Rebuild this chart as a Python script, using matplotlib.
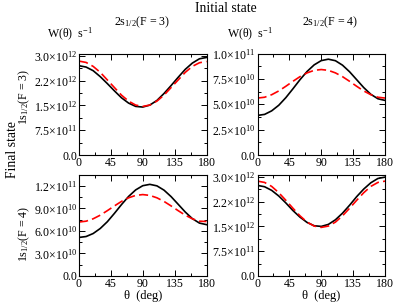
import numpy as np
import matplotlib
matplotlib.use("Agg")
import matplotlib.pyplot as plt
from matplotlib.ticker import AutoMinorLocator

plt.rcParams["font.family"] = ["Liberation Serif", "DejaVu Serif"]
plt.rcParams["mathtext.fontset"] = "custom"
plt.rcParams["mathtext.rm"] = "Liberation Serif"
plt.rcParams["mathtext.it"] = "Liberation Serif:italic"

# angles (deg)
theta = [0, 10, 20, 30, 40, 50, 60, 70, 80, 90, 100, 110, 120, 130, 140, 150, 160, 170, 180]

# W(theta)
# top-left: 2s(F=3) -> 1s(F=3), units 1e12
tl_black = [2.70, 2.66, 2.55, 2.37, 2.16, 1.94, 1.73, 1.57, 1.47, 1.45, 1.51, 1.65, 1.86, 2.10, 2.35, 2.59, 2.78, 2.91, 2.95]
tl_red = [2.84, 2.80, 2.68, 2.50, 2.27, 2.04, 1.81, 1.63, 1.51, 1.47, 1.51, 1.63, 1.81, 2.04, 2.27, 2.50, 2.68, 2.79, 2.83]
# top-right: 2s(F=4) -> 1s(F=3), units 1e10
tr_black = [3.90, 4.00, 4.35, 4.90, 5.65, 6.52, 7.42, 8.23, 8.88, 9.30, 9.44, 9.29, 8.85, 8.20, 7.42, 6.64, 5.98, 5.54, 5.38]
tr_red = [5.61, 5.69, 5.94, 6.31, 6.77, 7.26, 7.72, 8.09, 8.34, 8.42, 8.34, 8.09, 7.72, 7.26, 6.77, 6.31, 5.94, 5.69, 5.61]
# bottom-left: 2s(F=3) -> 1s(F=4), units 1e10
bl_black = [5.13, 5.25, 5.65, 6.32, 7.22, 8.33, 9.50, 10.58, 11.45, 12.01, 12.19, 11.99, 11.42, 10.56, 9.54, 8.51, 7.63, 7.04, 6.83]
bl_red = [7.18, 7.29, 7.61, 8.09, 8.69, 9.32, 9.92, 10.40, 10.72, 10.83, 10.72, 10.40, 9.92, 9.32, 8.69, 8.09, 7.61, 7.29, 7.25]
# bottom-right: 2s(F=4) -> 1s(F=4), units 1e12
br_black = [2.74, 2.70, 2.59, 2.42, 2.21, 1.98, 1.78, 1.62, 1.52, 1.50, 1.56, 1.70, 1.90, 2.14, 2.40, 2.63, 2.82, 2.95, 2.99]
br_red = [2.87, 2.83, 2.71, 2.52, 2.29, 2.05, 1.82, 1.63, 1.51, 1.47, 1.51, 1.63, 1.82, 2.05, 2.29, 2.52, 2.71, 2.83, 2.87]

xticks = [0, 45, 90, 135, 180]
yt_12 = [0, 0.75e12, 1.5e12, 2.25e12, 3.0e12]
yl_12 = ["0.0", r"7.5$\times$10$^{11}$", r"1.5$\times$10$^{12}$", r"2.2$\times$10$^{12}$", r"3.0$\times$10$^{12}$"]
yt_tr = [0, 2.5e10, 5.0e10, 7.5e10, 1.0e11]
yl_tr = ["0.0", r"2.5$\times$10$^{10}$", r"5.0$\times$10$^{10}$", r"7.5$\times$10$^{10}$", r"1.0$\times$10$^{11}$"]
yt_bl = [0, 3e10, 6e10, 9e10, 1.2e11]
yl_bl = ["0.0", r"3.0$\times$10$^{10}$", r"6.0$\times$10$^{10}$", r"9.0$\times$10$^{10}$", r"1.2$\times$10$^{11}$"]

W, H = 398, 305
fig = plt.figure(figsize=(W / 100, H / 100), dpi=100)

panels = [
    # (left, bottom px), black, red, scale, ylim, yticks, ylabels
    ((79, 155), tl_black, tl_red, 1e12, 3.07e12, yt_12, yl_12),
    ((257.5, 155), tr_black, tr_red, 1e10, 1.0e11, yt_tr, yl_tr),
    ((79, 276), bl_black, bl_red, 1e10, 1.35e11, yt_bl, yl_bl),
    ((257.5, 276), br_black, br_red, 1e12, 3.07e12, yt_12, yl_12),
]

axes = []
for (lx, by), blk, red, sc, ymax, yt, yl in panels:
    ax = fig.add_axes([lx / W, 1 - by / H, 127.5 / W, 101.5 / H])
    ax.plot(theta, np.array(blk) * sc, color="black", lw=1.2)
    ax.plot(theta, np.array(red) * sc, color="#ff0000", lw=1.2, ls=(0, (5.5, 2.5)))
    ax.set_xlim(0, 180)
    ax.set_ylim(0, ymax)
    ax.set_xticks(xticks)
    ax.set_yticks(yt)
    ax.set_yticklabels(yl)
    ax.xaxis.set_minor_locator(AutoMinorLocator(2))
    ax.yaxis.set_minor_locator(AutoMinorLocator(2))
    ax.tick_params(which="both", direction="in", top=True, right=True, labelsize=8.6, pad=1.2)
    ax.tick_params(which="major", length=4, width=0.7)
    ax.tick_params(which="minor", length=2.2, width=0.7)
    for s in ax.spines.values():
        s.set_linewidth(0.8)
    axes.append(ax)

for ax in axes[2:]:
    ax.set_xlabel("θ  (deg)", fontsize=9, labelpad=0)


def ft(x, y, s, **kw):
    fig.text(x / W, 1 - y / H, s, ha="center", va="center", **kw)


ft(226, 8, "Initial state", fontsize=9.8)
ft(13, 150, "Final state", fontsize=9.8, rotation=90)
ft(142, 22, r"2s$_{1/2}$(F = 3)", fontsize=8.6)
ft(330, 22, r"2s$_{1/2}$(F = 4)", fontsize=8.6)
ft(70, 34, r"W(θ)  s$^{-1}$", fontsize=8.6)
ft(250, 34, r"W(θ)  s$^{-1}$", fontsize=8.6)
ft(24, 97, r"1s$_{1/2}$(F = 3)", fontsize=8.6, rotation=90)
ft(24, 234, r"1s$_{1/2}$(F = 4)", fontsize=8.6, rotation=90)

fig.savefig("out.png", dpi=100)
